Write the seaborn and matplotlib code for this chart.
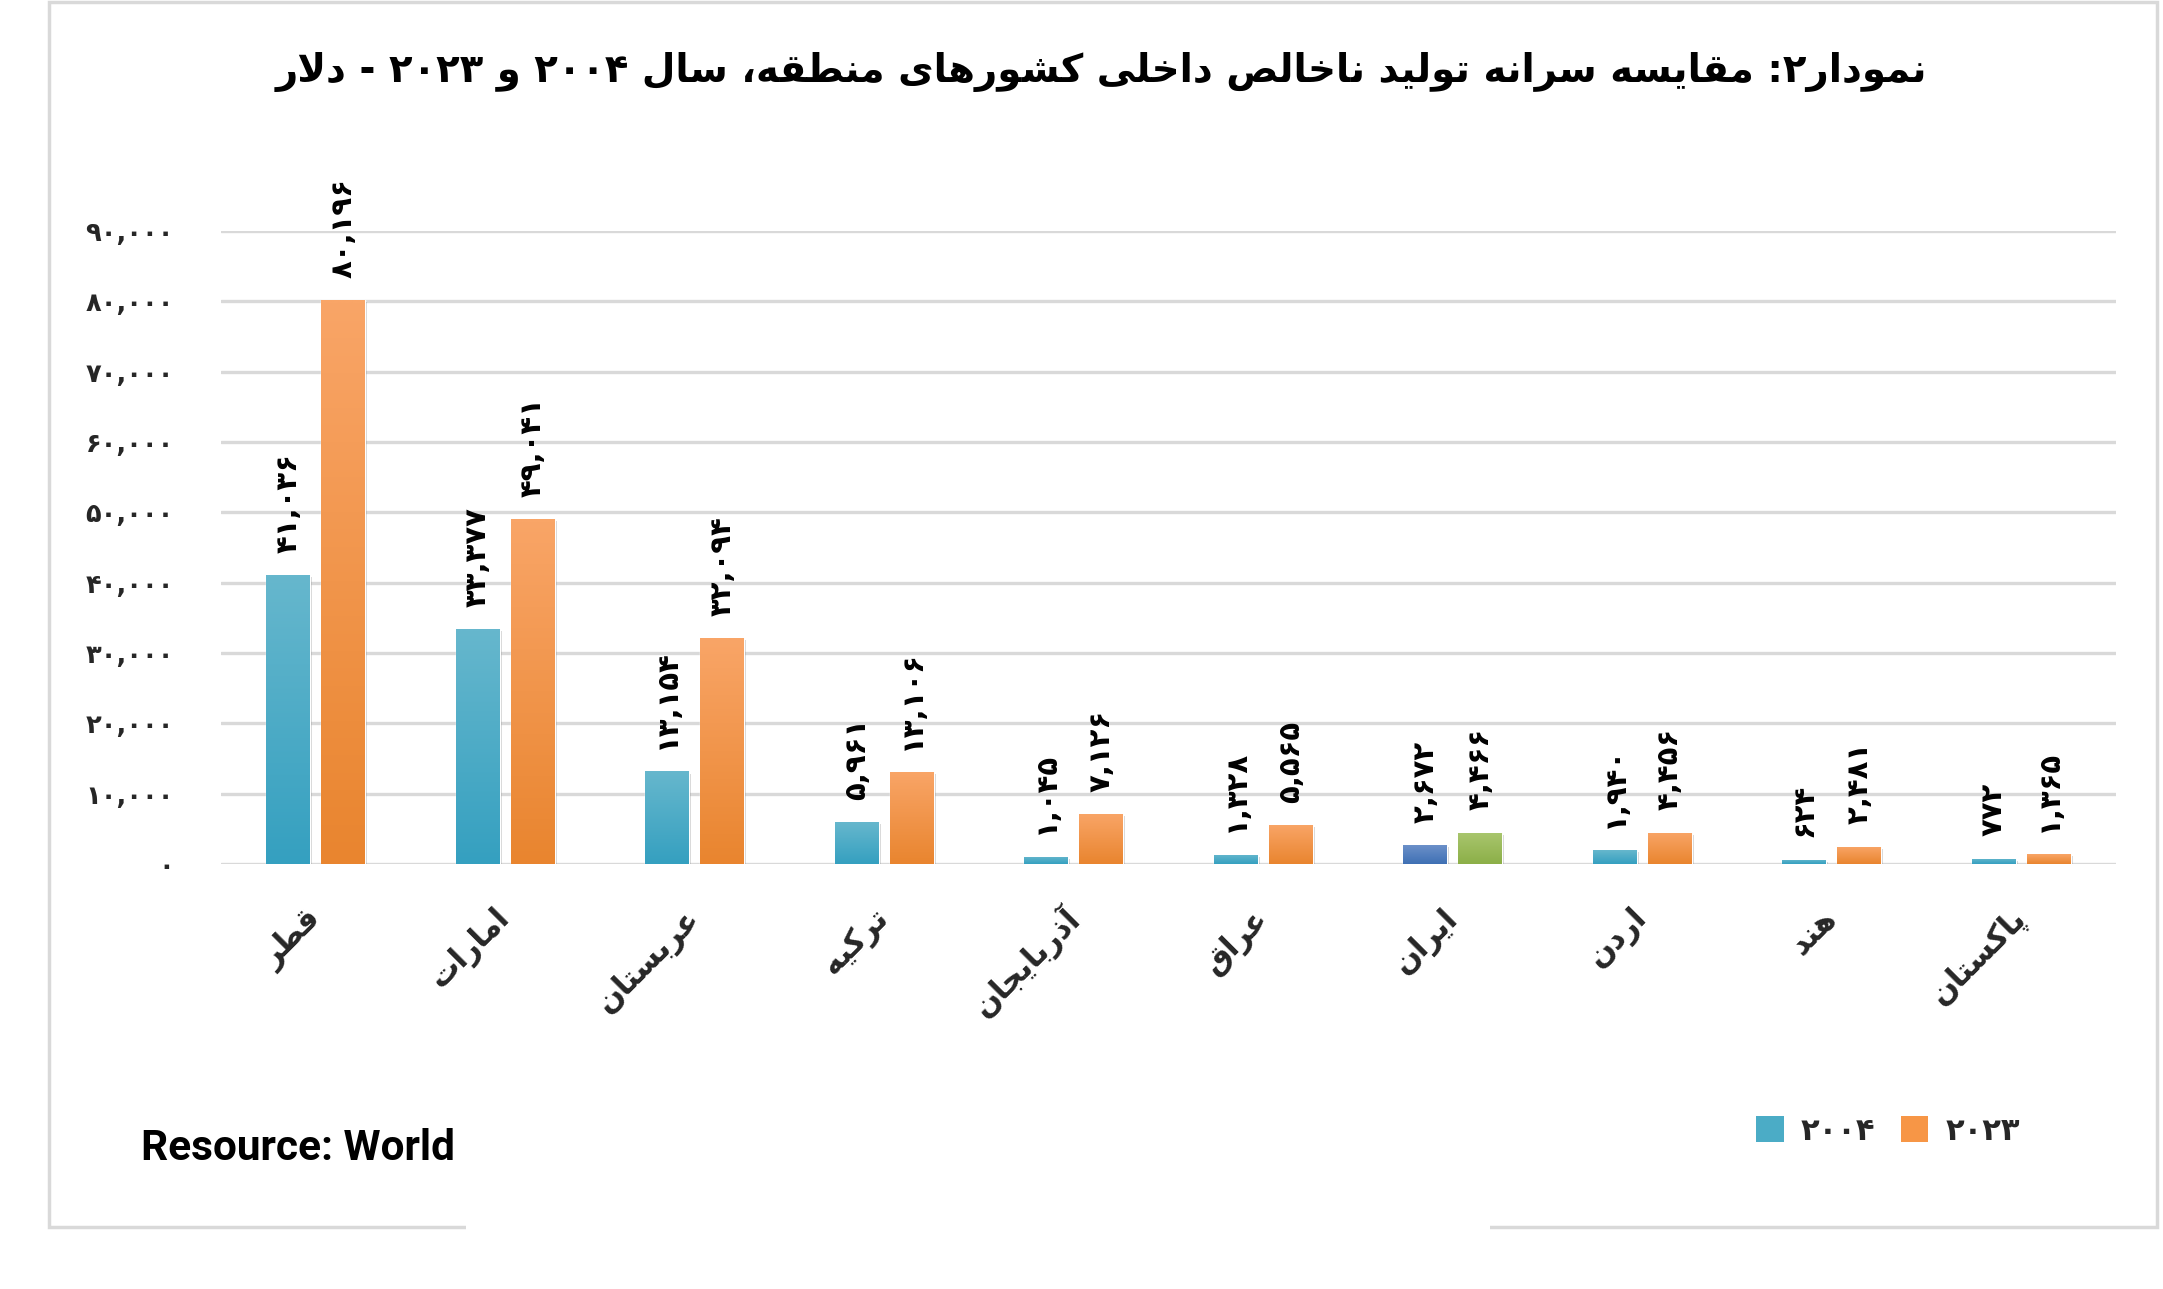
import re
import numpy as np
import pandas as pd
import matplotlib
matplotlib.use("Agg")
import matplotlib.pyplot as plt
import matplotlib.patheffects as pe
from matplotlib.patches import Rectangle, Patch
from matplotlib.ticker import FuncFormatter
import matplotlib.colors as mcolors
import seaborn as sns

# ---------------- data ----------------
countries = ["قطر", "امارات", "عربستان", "ترکیه", "آذربایجان",
             "عراق", "ایران", "اردن", "هند", "پاکستان"]
years = ["۲۰۰۴", "۲۰۲۳"]
gdp_2004 = [41036, 33377, 13154, 5961, 1045, 1328, 2672, 1940, 624, 772]
gdp_2023 = [80196, 49041, 32094, 13106, 7126, 5565, 4466, 4456, 2481, 1365]
y_ticks = [0, 10000, 20000, 30000, 40000, 50000, 60000, 70000, 80000, 90000]
title_text = "نمودار۲: مقایسه سرانه تولید ناخالص داخلی کشورهای منطقه، سال ۲۰۰۴ و ۲۰۲۳ - دلار"
source_text = "Resource: World Bank"

# ---------------- styles ----------------
colors = ["#4bacc6", "#f79646"]
highlight = {"ایران": ("#4f81bd", "#9bbb59")}
gradients = {
    "#4bacc6": ("#66b7cd", "#35a0c0"),
    "#f79646": ("#f9a567", "#e9852f"),
    "#4f81bd": ("#6b90c9", "#3f70b4"),
    "#9bbb59": ("#a9c66e", "#8caf48"),
}
grid_color = "#d9d9d9"

# ---------------- minimal Persian shaping ----------------
FORMS = {
    "ا": ("\uFE8D", "\uFE8E", None, None),
    "آ": ("\uFE81", "\uFE82", None, None),
    "ب": ("\uFE8F", "\uFE90", "\uFE91", "\uFE92"),
    "پ": ("\uFB56", "\uFB57", "\uFB58", "\uFB59"),
    "ت": ("\uFE95", "\uFE96", "\uFE97", "\uFE98"),
    "ج": ("\uFE9D", "\uFE9E", "\uFE9F", "\uFEA0"),
    "خ": ("\uFEA5", "\uFEA6", "\uFEA7", "\uFEA8"),
    "د": ("\uFEA9", "\uFEAA", None, None),
    "ذ": ("\uFEAB", "\uFEAC", None, None),
    "ر": ("\uFEAD", "\uFEAE", None, None),
    "ز": ("\uFEAF", "\uFEB0", None, None),
    "س": ("\uFEB1", "\uFEB2", "\uFEB3", "\uFEB4"),
    "ش": ("\uFEB5", "\uFEB6", "\uFEB7", "\uFEB8"),
    "ص": ("\uFEB9", "\uFEBA", "\uFEBB", "\uFEBC"),
    "ط": ("\uFEC1", "\uFEC2", "\uFEC3", "\uFEC4"),
    "ع": ("\uFEC9", "\uFECA", "\uFECB", "\uFECC"),
    "ق": ("\uFED5", "\uFED6", "\uFED7", "\uFED8"),
    "ک": ("\uFB8E", "\uFB8F", "\uFB90", "\uFB91"),
    "ل": ("\uFEDD", "\uFEDE", "\uFEDF", "\uFEE0"),
    "م": ("\uFEE1", "\uFEE2", "\uFEE3", "\uFEE4"),
    "ن": ("\uFEE5", "\uFEE6", "\uFEE7", "\uFEE8"),
    "ه": ("\uFEE9", "\uFEEA", "\uFEEB", "\uFEEC"),
    "و": ("\uFEED", "\uFEEE", None, None),
    "ی": ("\uFBFC", "\uFBFD", "\uFBFE", "\uFBFF"),
}
LAM_ALEF = {"ا": ("\uFEFB", "\uFEFC"), "آ": ("\uFEF5", "\uFEF6")}


def dual(ch):
    return ch in FORMS and FORMS[ch][2] is not None


def shape(text):
    out = []
    i = 0
    n = len(text)
    while i < n:
        ch = text[i]
        if ch not in FORMS:
            out.append(ch)
            i += 1
            continue
        prev = text[i - 1] if i > 0 else ""
        joins_prev = dual(prev)
        nxt = text[i + 1] if i + 1 < n else ""
        if ch == "ل" and nxt in LAM_ALEF:
            out.append(LAM_ALEF[nxt][1 if joins_prev else 0])
            i += 2
            continue
        joins_next = dual(ch) and nxt in FORMS
        iso, fin, ini, med = FORMS[ch]
        if joins_prev and joins_next:
            out.append(med)
        elif joins_prev:
            out.append(fin)
        elif joins_next:
            out.append(ini)
        else:
            out.append(iso)
        i += 1
    vis = "".join(out)[::-1]
    vis = re.sub(r"[0-9۰-۹]+(?:[,.][0-9۰-۹]+)*", lambda m: m.group(0)[::-1], vis)
    return vis


FA = str.maketrans("0123456789", "۰۱۲۳۴۵۶۷۸۹")


def fa_num(v):
    return f"{v:,.0f}".translate(FA)


# ---------------- figure ----------------
sns.set_theme(style="white")
plt.rcParams["font.family"] = ["DejaVu Sans"]

W, H = 2163, 1289
fig = plt.figure(figsize=(W / 100, H / 100), dpi=100, facecolor="white")
ax = fig.add_axes([221 / W, 1 - 864 / H, (2116 - 221) / W, (864 - 231) / H])

df = pd.DataFrame({
    "country": countries * 2,
    "year": [years[0]] * len(countries) + [years[1]] * len(countries),
    "value": gdp_2004 + gdp_2023,
})

sns.barplot(data=df, x="country", y="value", hue="year", order=countries,
            hue_order=years, palette=colors, width=0.58, gap=0.2,
            saturation=1, ax=ax, legend=False, errorbar=None)

# recolor highlighted category
for ci, cont in enumerate(ax.containers):
    for bi, bar in enumerate(cont):
        if countries[bi] in highlight:
            bar.set_facecolor(highlight[countries[bi]][ci])


def grad_for(base_hex):
    top, bot = gradients.get(base_hex, (base_hex, base_hex))
    top = np.array(mcolors.to_rgb(top))
    bot = np.array(mcolors.to_rgb(bot))
    t = np.linspace(0, 1, 64)[:, None]
    return (top[None, :] * (1 - t) + bot[None, :] * t)[:, None, :]


# gradient + shadow on bars
for cont in ax.containers:
    for bar in cont:
        base_hex = mcolors.to_hex(bar.get_facecolor())
        grad = grad_for(base_hex)
        x0 = bar.get_x()
        w = bar.get_width()
        h = bar.get_height()
        bar.set_path_effects([pe.SimplePatchShadow(offset=(1.5, -1.5), shadow_rgbFace="k",
                                                   alpha=0.2), pe.Normal()])
        im = ax.imshow(grad, extent=[x0, x0 + w, 0, h], aspect="auto",
                       zorder=bar.get_zorder() + 0.1, interpolation="bilinear")
        im.set_clip_path(bar)

ax.set_xlim(-0.5, len(countries) - 0.5)
ax.set_ylim(0, y_ticks[-1])
ax.set_aspect("auto")

# data labels
for cont, vals in zip(ax.containers, [gdp_2004, gdp_2023]):
    ax.bar_label(cont, labels=[fa_num(v) for v in vals], rotation=90,
                 padding=16, fontsize=21, fontweight="bold", color="black")

# axes styling
for s in ax.spines.values():
    s.set_visible(False)
ax.set_yticks(y_ticks)
ax.yaxis.set_major_formatter(FuncFormatter(lambda v, p: fa_num(v)))
ax.yaxis.grid(True, color=grid_color, lw=2.4)
ax.set_axisbelow(True)
ax.tick_params(axis="y", length=0, pad=34, labelsize=18.5)
for lab in ax.get_yticklabels():
    lab.set_fontweight("bold")
ax.set_xticks(range(len(countries)))
ax.set_xticklabels([shape(c) for c in countries], rotation=45, ha="right",
                   va="center", rotation_mode="anchor", fontsize=22, fontweight="bold")
ax.tick_params(axis="x", length=0, pad=36)
ax.set_xlabel("")
ax.set_ylabel("")

# title
fig.text(0.509, 1 - 72 / H, shape(title_text), ha="center", va="center",
         fontsize=27.8, fontweight="bold", color="black")

# legend
handles = [Patch(facecolor=c, edgecolor="none") for c in colors]
fig.legend(handles, years, loc="center", bbox_to_anchor=(1888 / W, 1 - 1131 / H),
           ncol=2, frameon=False, handlelength=0.9, handleheight=0.9,
           columnspacing=0.85, handletextpad=0.55,
           prop={"size": 22, "weight": "bold", "family": "DejaVu Sans"})

# source text
fig.text(141 / W, 1 - 1148 / H, source_text, ha="left", va="center",
         fontsize=30.5, fontweight="bold", family=["Roboto", "DejaVu Sans"], color="black")

# outer frame and white cover
fig.add_artist(Rectangle((49 / W, 1 - 1227 / H), (2157 - 49) / W, (1227 - 2) / H,
                         transform=fig.transFigure, fill=False, ec=grid_color, lw=2.5,
                         zorder=1))
fig.add_artist(Rectangle((466 / W, 0), (1490 - 466) / W, (1289 - 1070) / H,
                         transform=fig.transFigure, fc="white", ec="none", zorder=20))

fig.savefig("out.png", dpi=100, facecolor="white")
